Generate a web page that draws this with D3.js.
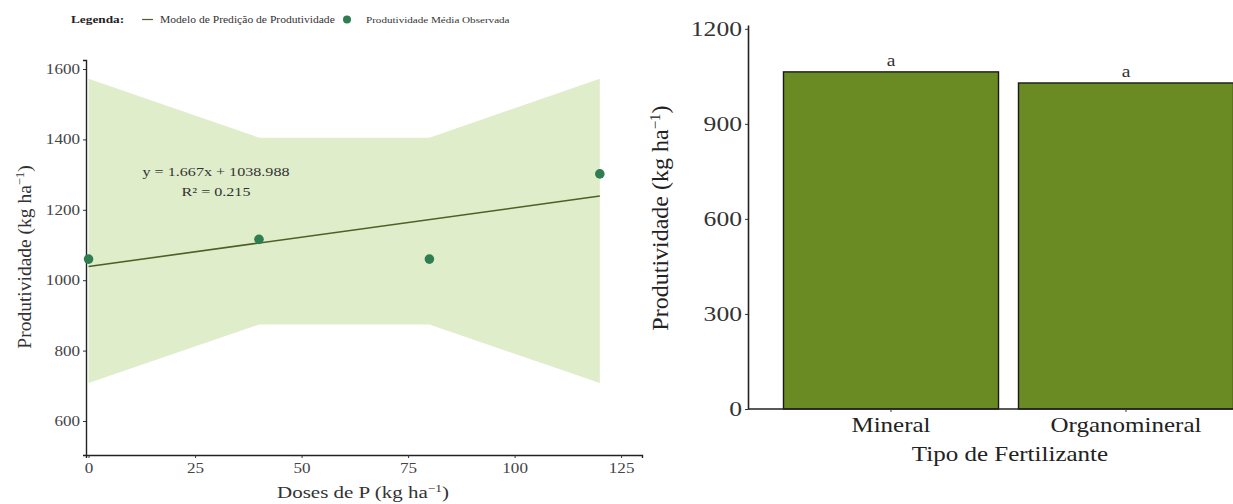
<!DOCTYPE html>
<html><head><meta charset="utf-8">
<script src="https://cdn.jsdelivr.net/npm/d3@7/dist/d3.min.js"></script>
<style>body{margin:0;background:#fff}svg{display:block}text{font-family:"Liberation Serif","Times New Roman",serif}</style>
</head><body><svg id="c" width="1233" height="504"></svg>
<script>
// ---- data ----
const doses = [0, 40, 80, 120];
const observed = [1060, 1116, 1060, 1302];
const ciUpper = [1572, 1405, 1405, 1572];
const ciLower = [708, 874, 874, 708];
const slope = 1.667, intercept = 1038.988, r2 = 0.215;
const xTicksLeft = [0, 25, 50, 75, 100, 125];
const yTicksLeft = [600, 800, 1000, 1200, 1400, 1600];
const fertTypes = ["Mineral", "Organomineral"];
const fertValues = [1064, 1029];
const fertLetters = ["a", "a"];
const yTicksRight = [0, 300, 600, 900, 1200];

const SX = 1.22; // horizontal stretch of the reference lettering
const FONT = '"Liberation Serif", "Times New Roman", serif';
const svg = d3.select("#c");

function label(g, x, y, size, anchor, fill, txt, weight) {
  const t = g.append("text").attr("transform", `translate(${x},${y}) scale(${SX},1)`)
    .attr("text-anchor", anchor).style("font-size", size + "px").style("font-family", FONT)
    .attr("fill", fill);
  if (weight) t.style("font-weight", weight);
  if (txt) t.text(txt);
  return t;
}
function unitTitle(t, pre, supSize) {
  t.append("tspan").text(pre + " (kg ha");
  t.append("tspan").attr("baseline-shift", "super").style("font-size", supSize + "px").text("−1");
  t.append("tspan").text(")");
}
function styleAxis(a, size, fill, sw) {
  a.attr("font-family", FONT);
  a.select(".domain").attr("stroke", "#222").attr("stroke-width", sw);
  a.selectAll(".tick line").attr("stroke", "#333");
  a.selectAll(".tick text").attr("fill", fill).style("font-size", size + "px")
    .style("font-family", FONT);
}

// ---- left panel ----
const xL = d3.scaleLinear().domain([-0.6, 129.9]).range([86, 642]);
const yL = d3.scaleLinear().domain([503.4, 1625.6]).range([455, 60]);
const gL = svg.append("g");

const ribbon = doses.map((d, i) => ({x: d, lo: ciLower[i], hi: ciUpper[i]}));
gL.append("path").datum(ribbon)
  .attr("d", d3.area().x(d => xL(d.x)).y0(d => yL(d.lo)).y1(d => yL(d.hi)))
  .attr("fill", "#dfedca");

gL.append("path").datum(d3.extent(doses))
  .attr("d", d3.line().x(d => xL(d)).y(d => yL(slope * d + intercept)))
  .attr("stroke", "#4b6125").attr("stroke-width", 1.6).attr("fill", "none");

const axL = gL.append("g").attr("transform", "translate(0,455)")
  .call(d3.axisBottom(xL).tickValues(xTicksLeft).tickFormat(d3.format("d")).tickSize(3).tickPadding(5));
const ayL = gL.append("g").attr("transform", "translate(86,0)")
  .call(d3.axisLeft(yL).tickValues(yTicksLeft).tickFormat(d3.format("d")).tickSize(3).tickPadding(3));
styleAxis(axL, 14, "#444", 1.4);
styleAxis(ayL, 14, "#444", 1.4);
axL.selectAll(".tick text").attr("transform", `scale(${SX},1)`);
ayL.selectAll(".tick text").attr("transform", `translate(${-6 * (1 - SX)},0) scale(${SX},1)`);

gL.selectAll("circle.obs").data(doses).join("circle").attr("class", "obs")
  .attr("cx", d => xL(d)).attr("cy", (d, i) => yL(observed[i])).attr("r", 4.8)
  .attr("fill", "#2f7d50");

label(gL, 216, 176, 13.2, "middle", "#333", `y = ${slope.toFixed(3)}x + ${intercept.toFixed(3)}`);
label(gL, 216, 196, 13.2, "middle", "#333", `R² = ${r2.toFixed(3)}`);

const tY = gL.append("text").attr("transform", "translate(31,257) rotate(-90)")
  .attr("text-anchor", "middle").style("font-size", "19.5px").style("font-family", FONT).attr("fill", "#333");
unitTitle(tY, "Produtividade", 12.5);
unitTitle(label(gL, 363, 498, 17.2, "middle", "#333"), "Doses de P", 11);

// legend
const lg = svg.append("g");
label(lg, 71, 23, 10.9, "start", "#222", "Legenda:", "bold");
lg.append("line").attr("x1", 142).attr("x2", 153).attr("y1", 19.5).attr("y2", 19.5)
  .attr("stroke", "#4b6125").attr("stroke-width", 1.2);
label(lg, 160, 23, 9.5, "start", "#333", "Modelo de Predição de Produtividade");
lg.append("circle").attr("cx", 347).attr("cy", 19.5).attr("r", 4).attr("fill", "#2f7d50");
label(lg, 366, 23, 9.1, "start", "#333", "Produtividade Média Observada");

// ---- right panel ----
const xR = d3.scaleBand().domain(fertTypes).range([750, 1267]).paddingInner(0.085).paddingOuter(0.1425);
const yR = d3.scaleLinear().domain([0, 1212]).range([409, 25]);
const gR = svg.append("g");

gR.selectAll("rect.bar").data(fertTypes).join("rect").attr("class", "bar")
  .attr("x", d => xR(d)).attr("width", xR.bandwidth())
  .attr("y", (d, i) => yR(fertValues[i])).attr("height", (d, i) => yR(0) - yR(fertValues[i]))
  .attr("fill", "#6a8a23").attr("stroke", "#1a1a1a").attr("stroke-width", 1.4);

fertTypes.forEach((d, i) =>
  label(gR, xR(d) + xR.bandwidth() / 2, yR(fertValues[i]) - 6, 16, "middle", "#333", fertLetters[i]));

const axR = gR.append("g").attr("transform", "translate(0,409)")
  .call(d3.axisBottom(xR).tickSize(3).tickPadding(5).tickSizeOuter(0));
axR.select(".domain").attr("d", "M748,0H1267");
const ayR = gR.append("g").attr("transform", "translate(748,0)")
  .call(d3.axisLeft(yR).tickValues(yTicksRight).tickFormat(d3.format("d")).tickSize(3).tickPadding(3).tickSizeOuter(0));
styleAxis(axR, 20.5, "#222", 1.6);
styleAxis(ayR, 21, "#333", 1.6);
axR.selectAll(".tick text").attr("transform", `scale(${SX},1)`);
ayR.selectAll(".tick text").attr("transform", `translate(${-6 * (1 - SX)},0) scale(${SX},1)`);

const tYR = gR.append("text").attr("transform", "translate(668,218) rotate(-90)")
  .attr("text-anchor", "middle").style("font-size", "24px").style("font-family", FONT).attr("fill", "#222");
unitTitle(tYR, "Produtividade", 15);
label(gR, 1010, 461, 20.5, "middle", "#222", "Tipo de Fertilizante");
</script></body></html>
